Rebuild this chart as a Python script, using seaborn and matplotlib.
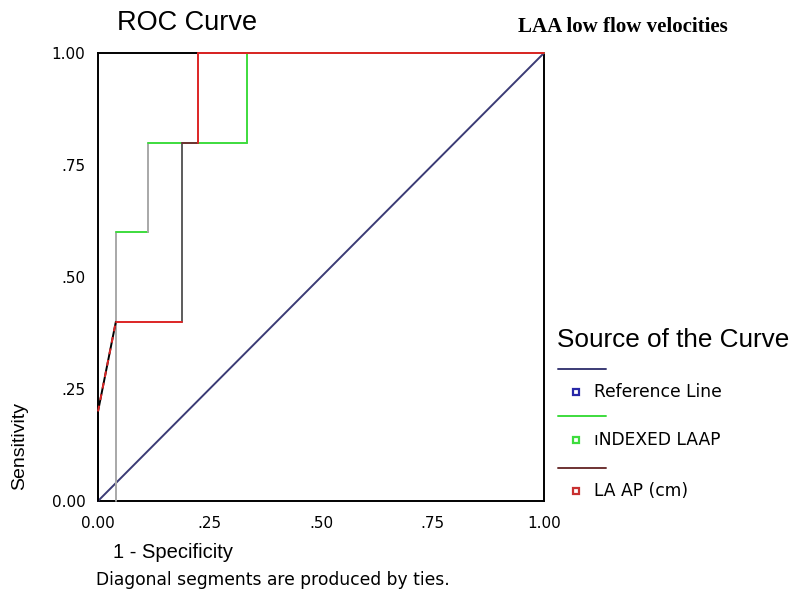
import numpy as np
import pandas as pd
import seaborn as sns
import matplotlib
matplotlib.use("Agg")
import matplotlib.pyplot as plt
from matplotlib.lines import Line2D
from matplotlib.patches import Rectangle

# ---- data ----
ref_x = [0.0, 1.0]
ref_y = [0.0, 1.0]

laap_x = [0.0, 0.04, 0.04, 0.112, 0.112, 0.335, 0.335, 1.0]
laap_y = [0.0, 0.0, 0.60, 0.60, 0.80, 0.80, 1.00, 1.00]

laap_cm_x = [0.0, 0.0, 0.04, 0.189, 0.189, 0.225, 0.225, 1.0]
laap_cm_y = [0.0, 0.20, 0.40, 0.40, 0.80, 0.80, 1.00, 1.00]

legend_labels = ["Reference Line", "\u0131NDEXED LAAP", "LA AP (cm)"]
x_ticks = [0.0, 0.25, 0.5, 0.75, 1.0]
tick_labels = ["0.00", ".25", ".50", ".75", "1.00"]

# ---- styles ----
NAVY = "#3b3b75"
GREEN = "#3ddc3d"
RED = "#dd2525"
LGREY = "#a8a8a8"
DGREY = "#5c5c5c"
BROWN = "#6e3232"
laap_seg_colors = [None, LGREY, GREEN, LGREY, GREEN, GREEN, GREEN]
laap_cm_seg_colors = ["black", "diag", RED, DGREY, BROWN, RED, RED]

sns.set_style("white")
plt.rcParams["font.family"] = ["DejaVu Sans"]
plt.rcParams["text.color"] = "black"

fig = plt.figure(figsize=(7.92, 5.93), dpi=100)
ax = fig.add_axes([98 / 792, 1 - 501 / 593, (544 - 98) / 792, (501 - 53) / 593])

LW = 1.4


def seg_plot(xs, ys, color, **kw):
    df = pd.DataFrame({"x": xs, "y": ys})
    sns.lineplot(data=df, x="x", y="y", sort=False, estimator=None, ax=ax,
                 color=color, linewidth=LW, clip_on=False, **kw)


# reference diagonal
seg_plot(ref_x, ref_y, NAVY, zorder=3)

# INDEXED LAAP
for i, c in enumerate(laap_seg_colors):
    if c is None:
        continue
    seg_plot(laap_x[i:i + 2], laap_y[i:i + 2], c, zorder=4)

# LA AP (cm)
for i, c in enumerate(laap_cm_seg_colors):
    xs, ys = laap_cm_x[i:i + 2], laap_cm_y[i:i + 2]
    if c == "diag":
        seg_plot(xs, ys, "black", zorder=5)
        seg_plot(xs, ys, RED, zorder=6, linestyle=(0, (3, 3)))
    else:
        seg_plot(xs, ys, c, zorder=5 if c != RED else 7)

ax.set_xlim(0, 1)
ax.set_ylim(0, 1)
for s in ax.spines.values():
    s.set_color("black")
    s.set_linewidth(1.4)
    s.set_zorder(2)
ax.set_xticks(x_ticks)
ax.set_xticklabels(tick_labels)
ax.set_yticks(x_ticks)
ax.set_yticklabels(tick_labels)
ax.tick_params(axis="both", direction="out", length=5, width=1.2,
               color="#8a2050", labelsize=11, pad=4, labelcolor="black")
ax.tick_params(axis="x", pad=6)
ax.set_xlabel("")
ax.set_ylabel("")

# titles / labels
fig.text(117 / 792, 1 - 23 / 593, "ROC Curve", fontsize=19.5,
         family="Liberation Sans", ha="left", va="center")
fig.text(518 / 792, 1 - 27 / 593, "LAA low flow velocities", fontsize=15,
         family="Liberation Serif", weight="bold", ha="left", va="center")
fig.text(20 / 792, 1 - 446 / 593, "Sensitivity", fontsize=14,
         family="Liberation Sans", rotation=90, ha="center", va="center")
fig.text(113 / 792, 1 - 553 / 593, "1 - Specificity", fontsize=14.5,
         family="Liberation Sans", ha="left", va="center")
fig.text(96 / 792, 1 - 580 / 593, "Diagonal segments are produced by ties.",
         fontsize=12.3, family="DejaVu Sans", ha="left", va="center")

# legend (custom SPSS-like)
fig.text(557 / 792, 1 - 340 / 593, "Source of the Curve", fontsize=18.8,
         family="Liberation Sans", ha="left", va="center")
leg_line_colors = [NAVY, GREEN, BROWN]
leg_marker_colors = ["#2828a8", GREEN, "#c83030"]
line_y = [369, 416, 468]
text_y = [392, 440, 491]
for lab, lc, mc, ly, ty in zip(legend_labels, leg_line_colors,
                               leg_marker_colors, line_y, text_y):
    fig.add_artist(Line2D([558 / 792, 606 / 792], [1 - ly / 593, 1 - ly / 593],
                          color=lc, linewidth=1.4))
    fig.add_artist(Rectangle((573 / 792, 1 - (ty + 3) / 593), 6 / 792, 6 / 593,
                             facecolor="white", edgecolor=mc, linewidth=1.6))
    fig.text(594 / 792, 1 - ty / 593, lab, fontsize=12.3, family="DejaVu Sans",
             ha="left", va="center")

fig.savefig("out.png", dpi=100)
